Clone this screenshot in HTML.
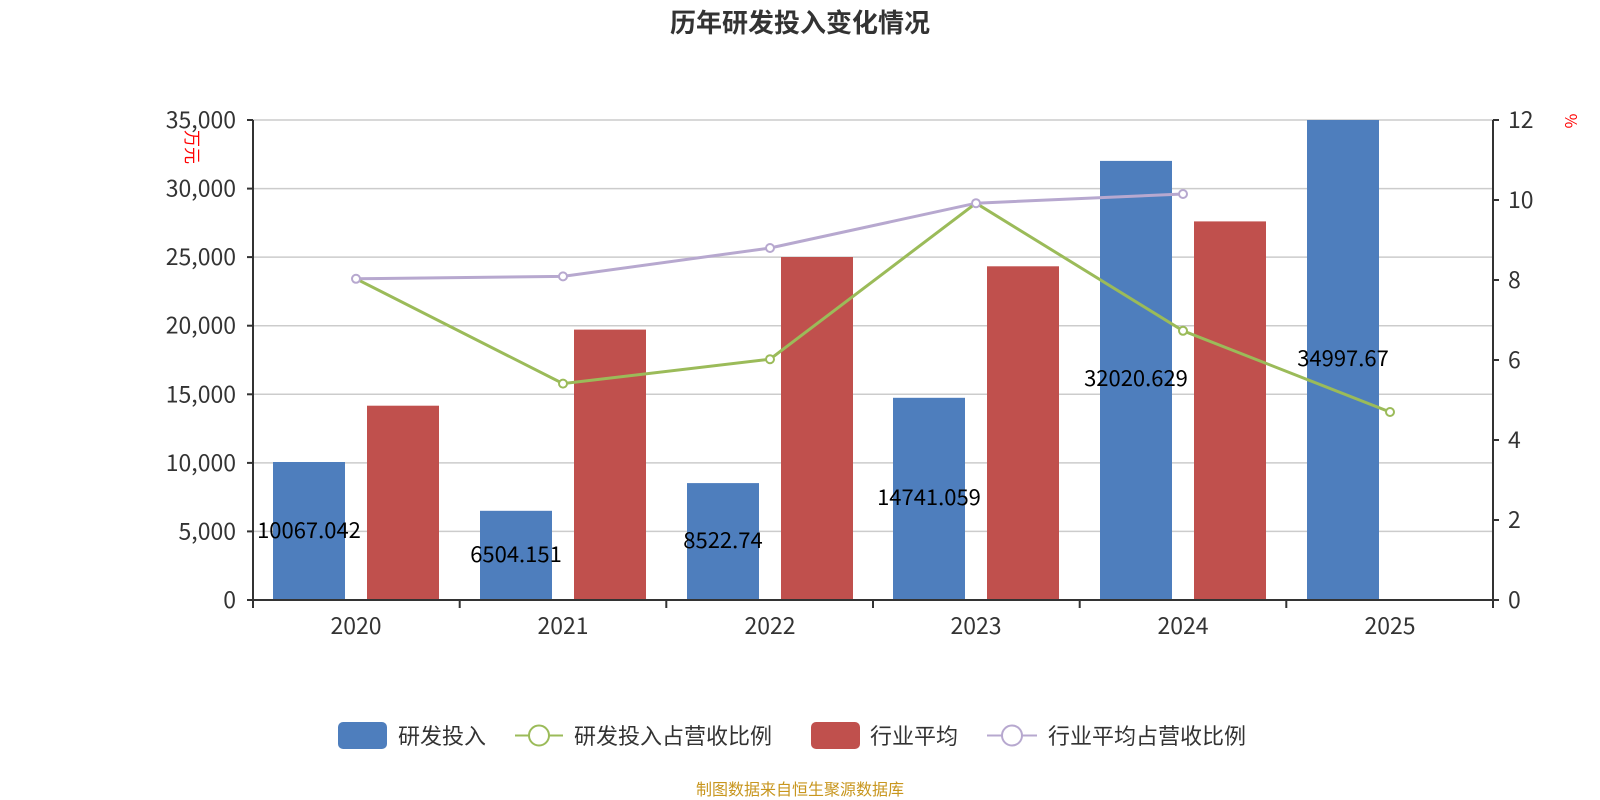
<!DOCTYPE html>
<html><head><meta charset="utf-8"><style>
html,body{margin:0;padding:0;background:#fff;}
svg{display:block;font-family:"Noto Sans CJK SC","Liberation Sans",sans-serif;}
</style></head><body>
<svg width="1600" height="800" viewBox="0 0 1600 800" xmlns="http://www.w3.org/2000/svg">
<text x="800" y="32" text-anchor="middle" font-size="26" font-weight="bold" fill="#333">历年研发投入变化情况</text>
<g stroke="#ccc" stroke-width="1.5">
<line x1="253" y1="120" x2="1493" y2="120"/>
<line x1="253" y1="188.6" x2="1493" y2="188.6"/>
<line x1="253" y1="257.1" x2="1493" y2="257.1"/>
<line x1="253" y1="325.7" x2="1493" y2="325.7"/>
<line x1="253" y1="394.3" x2="1493" y2="394.3"/>
<line x1="253" y1="462.9" x2="1493" y2="462.9"/>
<line x1="253" y1="531.4" x2="1493" y2="531.4"/>
</g>
<g fill="#4e7ebd">
<rect x="273" y="462" width="72" height="138"/>
<rect x="480" y="510.8" width="72" height="89.2"/>
<rect x="687" y="483.1" width="72" height="116.9"/>
<rect x="893" y="397.8" width="72" height="202.2"/>
<rect x="1100" y="160.9" width="72" height="439.1"/>
<rect x="1307" y="120" width="72" height="480"/>
</g>
<g fill="#c0504d">
<rect x="367" y="405.7" width="72" height="194.3"/>
<rect x="574" y="329.6" width="72" height="270.4"/>
<rect x="781" y="257" width="72" height="343"/>
<rect x="987" y="266.3" width="72" height="333.7"/>
<rect x="1194" y="221.4" width="72" height="378.6"/>
</g>
<g stroke="#333" stroke-width="2" fill="none">
<line x1="253" y1="120" x2="253" y2="608"/>
<line x1="1493" y1="120" x2="1493" y2="608"/>
<line x1="247" y1="600" x2="1499" y2="600"/>
<line x1="247" y1="120" x2="253" y2="120"/><line x1="247" y1="188.6" x2="253" y2="188.6"/><line x1="247" y1="257.1" x2="253" y2="257.1"/><line x1="247" y1="325.7" x2="253" y2="325.7"/><line x1="247" y1="394.3" x2="253" y2="394.3"/><line x1="247" y1="462.9" x2="253" y2="462.9"/><line x1="247" y1="531.4" x2="253" y2="531.4"/>
<line x1="1493" y1="120" x2="1499" y2="120"/><line x1="1493" y1="200" x2="1499" y2="200"/><line x1="1493" y1="280" x2="1499" y2="280"/><line x1="1493" y1="360" x2="1499" y2="360"/><line x1="1493" y1="440" x2="1499" y2="440"/><line x1="1493" y1="520" x2="1499" y2="520"/>
<line x1="459.7" y1="600" x2="459.7" y2="608"/><line x1="666.3" y1="600" x2="666.3" y2="608"/><line x1="873" y1="600" x2="873" y2="608"/><line x1="1079.7" y1="600" x2="1079.7" y2="608"/><line x1="1286.3" y1="600" x2="1286.3" y2="608"/>
</g>
<g font-size="23" fill="#333" text-anchor="end">
<text x="236" y="128">35,000</text><text x="236" y="196.6">30,000</text><text x="236" y="265.1">25,000</text><text x="236" y="333.7">20,000</text><text x="236" y="402.3">15,000</text><text x="236" y="470.9">10,000</text><text x="236" y="539.4">5,000</text><text x="236" y="608">0</text>
</g>
<g font-size="23" fill="#333">
<text x="1508" y="128">12</text><text x="1508" y="208">10</text><text x="1508" y="288">8</text><text x="1508" y="368">6</text><text x="1508" y="448">4</text><text x="1508" y="528">2</text><text x="1508" y="608">0</text>
</g>
<g font-size="23" fill="#333" text-anchor="middle">
<text x="356" y="634">2020</text><text x="563" y="634">2021</text><text x="770" y="634">2022</text><text x="976" y="634">2023</text><text x="1183" y="634">2024</text><text x="1390" y="634">2025</text>
</g>
<text transform="translate(186,147) rotate(90)" font-size="17" fill="#f00" text-anchor="middle">万元</text>
<text transform="translate(1565,121) rotate(90)" font-size="16" fill="#f00" text-anchor="middle">%</text>
<polyline points="356,278.8 563,276.4 770,248 976,203.2 1183,194" fill="none" stroke="#b7a8cf" stroke-width="3"/>
<polyline points="356,278.8 563,383.6 770,359.2 976,203.2 1183,330.8 1390,412" fill="none" stroke="#9bbb59" stroke-width="3"/>
<g fill="#fff" stroke="#9bbb59" stroke-width="2">
<circle cx="563" cy="383.6" r="4"/><circle cx="770" cy="359.2" r="4"/><circle cx="1183" cy="330.8" r="4"/><circle cx="1390" cy="412" r="4"/>
</g>
<g fill="#fff" stroke="#b7a8cf" stroke-width="2">
<circle cx="356" cy="278.8" r="4"/><circle cx="563" cy="276.4" r="4"/><circle cx="770" cy="248" r="4"/><circle cx="976" cy="203.2" r="4"/><circle cx="1183" cy="194" r="4"/>
</g>
<g font-size="22" fill="#000" text-anchor="middle">
<text x="309" y="538">10067.042</text>
<text x="516" y="562">6504.151</text>
<text x="723" y="548">8522.74</text>
<text x="929" y="505">14741.059</text>
<text x="1136" y="386">32020.629</text>
<text x="1343" y="366">34997.67</text>
</g>
<g font-size="22" fill="#333">
<rect x="338" y="722" width="49" height="27" rx="5" fill="#4e7ebd"/>
<text x="398" y="744">研发投入</text>
<line x1="515" y1="735.5" x2="563" y2="735.5" stroke="#9bbb59" stroke-width="2"/>
<circle cx="539" cy="735.5" r="10" fill="#fff" stroke="#9bbb59" stroke-width="2"/>
<text x="574" y="744">研发投入占营收比例</text>
<rect x="811" y="722" width="49" height="27" rx="5" fill="#c0504d"/>
<text x="870" y="744">行业平均</text>
<line x1="987" y1="735.5" x2="1037" y2="735.5" stroke="#b7a8cf" stroke-width="2"/>
<circle cx="1012" cy="735.5" r="10" fill="#fff" stroke="#b7a8cf" stroke-width="2"/>
<text x="1048" y="744">行业平均占营收比例</text>
</g>
<text x="800" y="795" font-size="16" fill="#c8961e" text-anchor="middle">制图数据来自恒生聚源数据库</text>
</svg>
</body></html>
